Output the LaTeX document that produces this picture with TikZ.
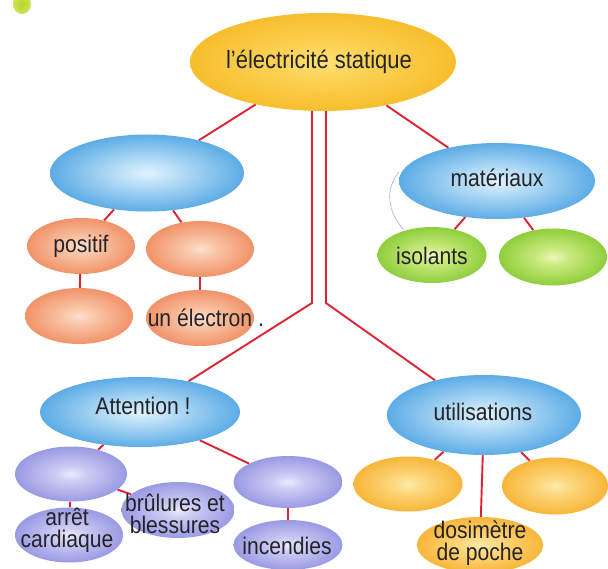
\documentclass[tikz,border=0pt]{standalone}
\usepackage{fontspec}
\setmainfont{Liberation Sans}[FakeStretch=0.88]
\usetikzlibrary{shapes.geometric,backgrounds}
\definecolor{linkred}{RGB}{222,36,50}
\definecolor{txtcol}{RGB}{35,35,40}
\definecolor{strayviolet}{RGB}{205,160,225}
\pgfdeclareradialshading{shroot}{\pgfpoint{0bp}{0bp}}{rgb(0bp)=(0.99,0.88,0.46); rgb(8bp)=(0.99,0.83,0.34); rgb(30bp)=(0.96,0.72,0.13); rgb(50bp)=(0.94,0.64,0.08)}
\pgfdeclareradialshading{shblue}{\pgfpoint{0bp}{0bp}}{rgb(0bp)=(0.88,0.95,0.99); rgb(7bp)=(0.74,0.88,0.97); rgb(28bp)=(0.30,0.64,0.89); rgb(50bp)=(0.16,0.55,0.85)}
\pgfdeclareradialshading{shorange}{\pgfpoint{0bp}{0bp}}{rgb(0bp)=(0.99,0.88,0.82); rgb(7bp)=(0.98,0.78,0.66); rgb(28bp)=(0.94,0.54,0.37); rgb(50bp)=(0.91,0.43,0.27)}
\pgfdeclareradialshading{shgreen}{\pgfpoint{0bp}{0bp}}{rgb(0bp)=(0.92,0.97,0.76); rgb(7bp)=(0.80,0.92,0.50); rgb(28bp)=(0.52,0.79,0.19); rgb(50bp)=(0.40,0.72,0.12)}
\pgfdeclareradialshading{shpurple}{\pgfpoint{0bp}{0bp}}{rgb(0bp)=(0.92,0.92,0.99); rgb(7bp)=(0.80,0.80,0.96); rgb(28bp)=(0.57,0.57,0.88); rgb(50bp)=(0.43,0.43,0.81)}
\pgfdeclareradialshading{shyo}{\pgfpoint{0bp}{0bp}}{rgb(0bp)=(0.99,0.92,0.68); rgb(7bp)=(0.99,0.85,0.50); rgb(28bp)=(0.97,0.69,0.18); rgb(50bp)=(0.95,0.60,0.08)}
\pgfdeclareradialshading{shleaf}{\pgfpoint{0bp}{0bp}}{rgb(0bp)=(0.72,0.84,0.15); rgb(25bp)=(0.80,0.89,0.35); rgb(50bp)=(0.95,0.98,0.85)}
\begin{document}
\begin{tikzpicture}[x=1pt,y=-1pt,
  bub/.style={ellipse, inner sep=0pt, draw=none},
  lbl/.style={inner sep=1pt, align=center, font=\fontsize{24}{22}\selectfont, text=txtcol},
  link/.style={draw=linkred, line width=1.9pt}]
\useasboundingbox (0,0) rectangle (608,569);

% ellipses
\node[bub, shading=shroot,  minimum width=266pt, minimum height=98pt] (root)  at (323,62)  {};
\node[bub, shading=shblue,  minimum width=194pt, minimum height=77pt] (blueL) at (147,173) {};
\node[bub, shading=shblue,  minimum width=196pt, minimum height=76pt] (mat)   at (497,181) {};
\node[bub, shading=shorange,minimum width=108pt, minimum height=56pt] (pos)   at (81,246)  {};
\node[bub, shading=shorange,minimum width=108pt, minimum height=56pt] (orR)   at (200,249) {};
\node[bub, shading=shorange,minimum width=108pt, minimum height=56pt] (orL2)  at (79,316)  {};
\node[bub, shading=shorange,minimum width=108pt, minimum height=56pt] (elec)  at (200,318) {};
\node[bub, shading=shgreen, minimum width=109pt, minimum height=56pt] (iso)   at (432,255) {};
\node[bub, shading=shgreen, minimum width=108pt, minimum height=57pt] (grR)   at (553,257) {};
\node[bub, shading=shblue,  minimum width=200pt, minimum height=70pt] (att)   at (140,412) {};
\node[bub, shading=shblue,  minimum width=194pt, minimum height=80pt] (uti)   at (484,415) {};
\node[bub, shading=shpurple,minimum width=112pt, minimum height=55pt] (puL)   at (71,474)  {};
\node[bub, shading=shpurple,minimum width=113pt, minimum height=56pt] (brul)  at (178,510) {};
\node[bub, shading=shpurple,minimum width=108pt, minimum height=55pt] (arr)   at (69,535)  {};
\node[bub, shading=shpurple,minimum width=109pt, minimum height=52pt] (puR)   at (288,482) {};
\node[bub, shading=shpurple,minimum width=109pt, minimum height=50pt] (inc)   at (288,545) {};
\node[bub, shading=shyo,    minimum width=109pt, minimum height=55pt] (yoL)   at (408,484) {};
\node[bub, shading=shyo,    minimum width=106pt, minimum height=57pt] (yoR)   at (555,486) {};
\node[bub, shading=shyo,    minimum width=126pt, minimum height=56pt] (dos)   at (480,545) {};

% texts
\node[lbl, font=\fontsize{25}{22}\selectfont] (root-t) at (319,62) {l'électricité statique};
\node[lbl] (mat-t)  at (497,178) {matériaux};
\node[lbl] (pos-t)  at (81,246)  {positif};
\node[lbl] (elec-t) at (200,318) {un électron\rlap{ .}};
\node[lbl] (iso-t)  at (432,256) {isolants};
\node[lbl] (att-t)  at (143,406) {Attention !};
\node[lbl] (uti-t)  at (483,412) {utilisations};
\node[lbl] (brul-t) at (175,514) {brûlures et\\blessures};
\node[lbl] (arr-t)  at (67,530)  {arrêt\\cardiaque};
\node[lbl] (inc-t)  at (287,546) {incendies};
\node[lbl] (dos-t)  at (480,543) {dosimètre\\de poche};

\begin{pgfonlayer}{background}
  \fill[white] (0,0) rectangle (608,569);
  \shade[shading=shleaf] (22,4) ellipse [x radius=9pt, y radius=10pt];
  \draw[strayviolet, line width=0.6pt] (399,172) .. controls (385,188) and (387,212) .. (404,230);
  \coordinate (cl) at (312,303);
  \coordinate (cr) at (326,303);
  \draw[link] (root) -- (blueL);
  \draw[link] (root) -- (mat);
  \draw[link] (cl |- root.center) -- (cl) -- (att);
  \draw[link] (cr |- root.center) -- (cr) -- (uti);
  \draw[link] (blueL) -- (pos);
  \draw[link] (blueL) -- (orR);
  \draw[link] (pos) -- (orL2);
  \draw[link] (orR) -- (elec);
  \draw[link] (mat) -- (iso);
  \draw[link] (mat) -- (grR);
  \draw[link] (att) -- (puL);
  \draw[link] (att) -- (puR);
  \draw[link] (puL) -- (brul);
  \draw[link] (puL) -- (arr);
  \draw[link] (puR) -- (inc);
  \draw[link] (uti) -- (yoL);
  \draw[link] (uti) -- (yoR);
  \draw[link] (uti) -- (dos);
\end{pgfonlayer}
\end{tikzpicture}
\end{document}
